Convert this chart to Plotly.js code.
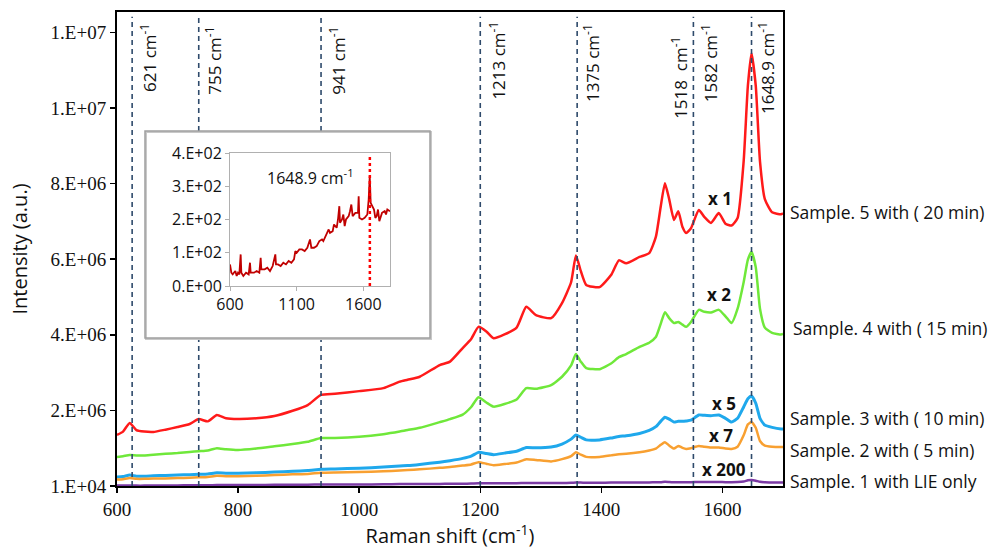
<!DOCTYPE html>
<html>
<head>
<meta charset="utf-8">
<script src="https://cdn.plot.ly/plotly-3.0.1.min.js"></script>
<style>html,body{margin:0;padding:0;background:#fff;}#chart{width:991px;height:549px;}</style>
</head>
<body>
<div id="chart"></div>
<script>
// Raman shift grid (cm-1)
var shift = [600,610,621,632,645,660,680,700,720,735,750,765,780,800,830,860,890,915,937,960,1000,1040,1067,1080,1100,1133,1150,1171,1185,1197,1210,1222,1240,1260,1276,1292,1317,1335,1350,1358,1366,1375,1397,1416,1429,1441,1463,1479,1490,1498,1505,1512,1520,1527,1534,1540,1548,1561,1570,1581,1594,1605,1615,1625,1635,1642,1648,1655,1662,1670,1682,1697,1700];
// Intensities in units of 1e6 a.u.
var sample5 = [1.36,1.45,1.68,1.49,1.45,1.44,1.50,1.57,1.65,1.78,1.72,1.89,1.80,1.78,1.80,1.86,2.00,2.15,2.42,2.45,2.52,2.60,2.77,2.82,2.90,3.21,3.30,3.66,3.90,4.22,4.10,3.92,4.02,4.20,4.75,4.53,4.45,4.85,5.40,6.11,5.70,5.33,5.27,5.59,5.98,5.90,6.07,6.17,6.60,7.40,8.02,7.60,7.05,7.28,6.86,6.70,6.83,7.31,7.13,6.97,7.23,6.95,6.90,7.10,8.60,10.6,11.46,10.6,8.60,7.60,7.25,7.20,7.22];
var sample4 = [0.78,0.80,0.83,0.82,0.82,0.84,0.86,0.88,0.91,0.93,0.95,1.01,0.98,0.96,1.00,1.06,1.12,1.18,1.28,1.28,1.31,1.38,1.45,1.49,1.55,1.70,1.78,1.90,2.10,2.36,2.22,2.11,2.18,2.30,2.60,2.58,2.68,2.90,3.20,3.50,3.30,3.13,3.10,3.25,3.42,3.50,3.69,3.80,3.95,4.30,4.61,4.45,4.32,4.35,4.28,4.22,4.35,4.67,4.62,4.60,4.67,4.50,4.32,4.70,5.40,6.00,6.20,5.80,4.70,4.20,4.06,4.02,4.03];
var sample3 = [0.25,0.26,0.30,0.27,0.27,0.28,0.29,0.30,0.31,0.32,0.33,0.36,0.35,0.35,0.36,0.38,0.40,0.42,0.45,0.46,0.48,0.51,0.54,0.55,0.58,0.64,0.68,0.74,0.80,0.90,0.87,0.84,0.88,0.93,1.03,1.02,1.04,1.12,1.25,1.36,1.30,1.23,1.23,1.28,1.32,1.34,1.40,1.48,1.58,1.72,1.83,1.78,1.70,1.72,1.72,1.73,1.75,1.89,1.88,1.87,1.89,1.80,1.70,1.80,2.10,2.32,2.39,2.20,1.80,1.62,1.56,1.52,1.52];
var sample2 = [0.18,0.19,0.22,0.20,0.20,0.21,0.21,0.22,0.23,0.24,0.25,0.28,0.27,0.27,0.28,0.30,0.32,0.33,0.36,0.37,0.38,0.40,0.42,0.43,0.45,0.49,0.51,0.55,0.58,0.64,0.60,0.56,0.59,0.63,0.72,0.70,0.66,0.72,0.80,0.90,0.84,0.78,0.78,0.82,0.85,0.86,0.90,0.95,1.00,1.10,1.17,1.08,1.00,1.07,1.02,0.99,1.01,1.07,1.05,1.03,1.03,1.00,0.99,1.05,1.35,1.64,1.70,1.55,1.20,1.08,1.05,1.04,1.04];
var sample1 = [0.02,0.02,0.025,0.02,0.02,0.02,0.025,0.025,0.03,0.03,0.03,0.035,0.035,0.035,0.035,0.04,0.04,0.045,0.05,0.05,0.05,0.055,0.06,0.06,0.06,0.065,0.07,0.07,0.075,0.085,0.08,0.08,0.08,0.085,0.09,0.09,0.09,0.09,0.095,0.10,0.10,0.095,0.095,0.10,0.10,0.10,0.10,0.105,0.11,0.11,0.12,0.115,0.11,0.11,0.11,0.11,0.11,0.115,0.115,0.115,0.115,0.11,0.11,0.115,0.13,0.16,0.17,0.15,0.12,0.11,0.10,0.10,0.10];

var seriesNames = ["Sample. 5 with ( 20 min)","Sample. 4 with ( 15 min)","Sample. 3 with ( 10 min)","Sample. 2 with ( 5 min)","Sample. 1 with LIE only"];
var multipliers = ["x 1","x 2","x 5","x 7","x 200"];

// Inset: Sample 1 alone
var insetShift = [600,610,620,640,650,660,670,680,685,700,720,740,750,755,780,800,820,830,835,860,880,900,920,940,945,960,980,1000,1020,1040,1060,1080,1090,1100,1120,1140,1160,1180,1200,1210,1230,1250,1270,1290,1300,1320,1340,1350,1370,1380,1400,1410,1420,1425,1440,1450,1460,1470,1490,1500,1510,1520,1540,1560,1565,1570,1590,1610,1630,1640,1648,1655,1665,1680,1690,1700,1710,1720,1740,1760,1770,1780,1800];
var insetIntensity = [65,40,35,45,30,40,35,95,40,30,40,35,70,40,40,45,40,85,50,50,55,45,60,95,65,65,60,70,65,75,70,80,105,100,110,110,105,115,140,115,115,120,135,140,135,155,170,160,165,185,175,200,240,190,200,215,180,200,210,225,245,210,220,220,270,205,200,205,215,260,330,250,240,230,205,210,230,195,220,225,215,230,225];

// Marked bands
var bandLines = [625,735,937,1200,1360,1552,1648];
var bandLabels = ["621 cm<sup>-1</sup>","755 cm<sup>-1</sup>","941 cm<sup>-1</sup>","1213 cm<sup>-1</sup>","1375 cm<sup>-1</sup>","1518  cm<sup>-1</sup>","1582 cm<sup>-1</sup>","1648.9 cm<sup>-1</sup>"];
var bandLabelX = [651,758,963,1227,1383,1528,1578,1672];
var bandLabelTop = [22,25,25,20,22,35,22,20];

var yTickVals = [0.01,2.01,4.01,6.01,8.01,10.01,12.01];
var yTickText = ["1.E+04","2.E+06","4.E+06","6.E+06","8.E+06","1.E+07","1.E+07"];
var insetYTickVals = [0,100,200,300,400];
var insetYTickText = ["0.E+00","1.E+02","2.E+02","3.E+02","4.E+02"];

var colors = ["#ff1a1a","#6fe83a","#1fa8ec","#f8a031","#7b3aa4"];
var allSeries = [sample5, sample4, sample3, sample2, sample1];

var traces = allSeries.map(function(s,i){
  return {x: shift, y: s.map(function(v){return v*1e6;}), type:'scatter', mode:'lines',
    line:{color:colors[i], width: i==2?3:2.5, shape:'spline', smoothing:0.5}, showlegend:false, hoverinfo:'skip'};
});
traces.push({x: insetShift, y: insetIntensity, xaxis:'x2', yaxis:'y2', type:'scatter', mode:'lines',
  line:{color:'#c00000', width:1.8}, showlegend:false, hoverinfo:'skip'});

// pixel -> paper helpers (plot area: x 117..783, y 12..486)
function px(x){return (x-117)/666;}
function py(y){return (486-y)/474;}

var shapes = [];
var dashStyle = {color:'#2e4a6b', width:1.6, dash:'5px,4px'};
bandLines.forEach(function(b){
  if (b>700 && b<1000) {
    shapes.push({type:'line', xref:'x', yref:'paper', x0:b, x1:b, y0:0, y1:py(338), line:dashStyle});
    shapes.push({type:'line', xref:'x', yref:'paper', x0:b, x1:b, y0:py(131), y1:0.99, line:dashStyle});
  } else {
    shapes.push({type:'line', xref:'x', yref:'paper', x0:b, x1:b, y0:0, y1:0.99, line:dashStyle});
  }
});
// inset frame
shapes.push({type:'rect', xref:'paper', yref:'paper', x0:px(146), x1:px(431), y0:py(339), y1:py(132), line:{color:'#c8c8c8', width:2}, layer:'above'});
shapes.push({type:'rect', xref:'paper', yref:'paper', x0:px(145), x1:px(430), y0:py(338), y1:py(131), line:{color:'#a0a0a0', width:1.5}, layer:'above'});
// inset marker line
shapes.push({type:'line', xref:'x2', yref:'y2', x0:1648.9, x1:1648.9, y0:0, y1:390, line:{color:'#ff0000', width:2.5, dash:'dot'}});

var sans = 'Open Sans, Noto Sans, sans-serif';
var annotations = [];
bandLabels.forEach(function(t,i){
  annotations.push({text:t, xref:'x', yref:'paper', x:bandLabelX[i], y:1, yshift:-(bandLabelTop[i]-12),
    xanchor:'center', yanchor:'top', textangle:-90, showarrow:false, font:{family:sans, size:17, color:'#111'}});
});
var rightY = [212,328,418,450,481];
var rightX = [788,791,788,788,788];
seriesNames.forEach(function(t,i){
  annotations.push({text:t, xref:'paper', yref:'paper', x:px(rightX[i]), y:py(rightY[i]), xanchor:'left', yanchor:'middle',
    showarrow:false, font:{family:sans, size:17.5, color:'#111'}});
});
var multX = [720,719,724,721,724];
var multY = [199,295,403,435,469];
multipliers.forEach(function(t,i){
  annotations.push({text:'<b>'+t+'</b>', xref:'paper', yref:'paper', x:px(multX[i]), y:py(multY[i]), xanchor:'center', yanchor:'middle',
    showarrow:false, font:{family:sans, size:17, color:'#111'}});
});
annotations.push({text:'1648.9 cm<sup>-1</sup>', xref:'x2', yref:'y2', x:1200, y:328, xanchor:'center', yanchor:'middle',
  showarrow:false, font:{family:sans, size:16, color:'#111'}});

var serif = 'Liberation Serif, Times New Roman, serif';
var layout = {
  width:991, height:549,
  margin:{l:117, r:208, t:12, b:63},
  paper_bgcolor:'#fff', plot_bgcolor:'#fff',
  showlegend:false,
  xaxis:{range:[600,1700], tick0:600, dtick:200, showgrid:false, zeroline:false,
    showline:true, linecolor:'#000', linewidth:2, mirror:true,
    ticks:'outside', ticklen:5, tickwidth:1.5, tickcolor:'#000',
    tickfont:{family:serif, size:19, color:'#111'},
    title:{text:'Raman shift (cm<sup>-1</sup>)', standoff:12, font:{family:sans, size:20, color:'#111'}}},
  yaxis:{range:[0.01e6,12.55e6], tickvals:yTickVals.map(function(v){return v*1e6;}), ticktext:yTickText,
    showgrid:false, zeroline:false,
    showline:true, linecolor:'#000', linewidth:2, mirror:true,
    ticks:'outside', ticklen:5, tickwidth:1.5, tickcolor:'#000',
    tickfont:{family:serif, size:19, color:'#111'},
    title:{text:'Intensity (a.u.)', standoff:18, font:{family:sans, size:20, color:'#111'}}},
  xaxis2:{domain:[px(230),px(390)], anchor:'y2', range:[600,1800], tickvals:[600,1100,1600],
    showgrid:false, zeroline:false, showline:true, linecolor:'#b0b0b0', linewidth:1, mirror:true,
    ticks:'outside', ticklen:4, tickcolor:'#b0b0b0',
    tickfont:{family:sans, size:16, color:'#111'}},
  yaxis2:{domain:[py(286),py(153)], anchor:'x2', range:[0,400], tickvals:insetYTickVals, ticktext:insetYTickText,
    showgrid:false, zeroline:false, showline:true, linecolor:'#b0b0b0', linewidth:1, mirror:true,
    ticks:'outside', ticklen:4, tickcolor:'#b0b0b0',
    tickfont:{family:sans, size:16, color:'#111'}},
  shapes:shapes,
  annotations:annotations
};

Plotly.newPlot('chart', traces, layout, {displayModeBar:false, staticPlot:true});
</script>
</body>
</html>
